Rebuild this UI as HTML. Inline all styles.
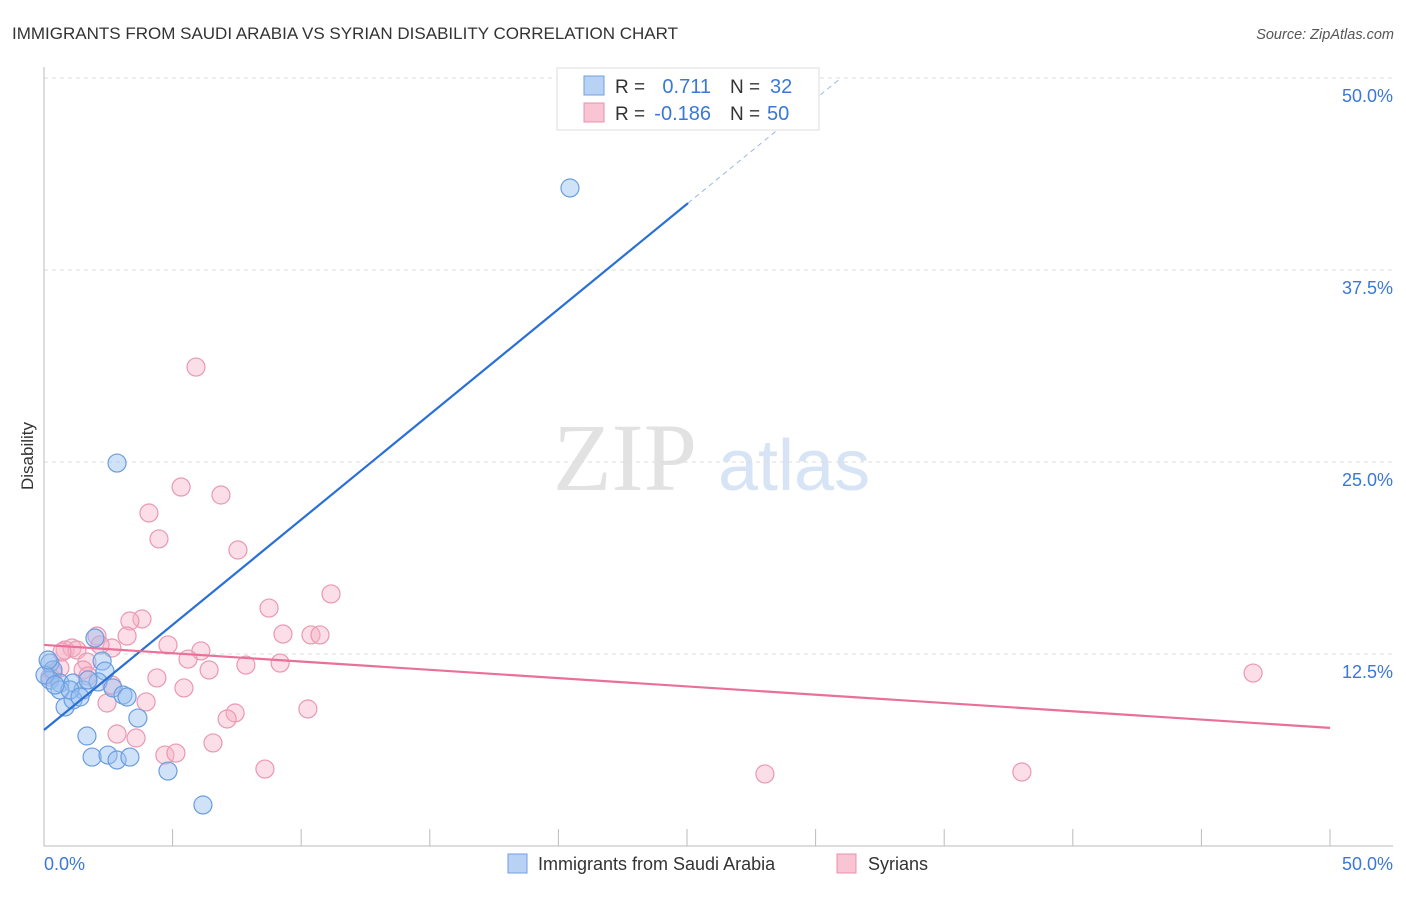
<!DOCTYPE html>
<html><head><meta charset="utf-8"><style>
body{margin:0;background:#fff;font-family:"Liberation Sans",sans-serif}
svg text{font-family:"Liberation Sans",sans-serif}
</style></head><body>
<svg width="1406" height="892" viewBox="0 0 1406 892">
<text x="12" y="39" font-size="17" fill="#333">IMMIGRANTS FROM SAUDI ARABIA VS SYRIAN DISABILITY CORRELATION CHART</text>
<text x="1394" y="39" font-size="14.5" fill="#555" text-anchor="end" font-style="italic">Source: ZipAtlas.com</text>
<text x="33" y="456" font-size="17" fill="#333" text-anchor="middle" transform="rotate(-90 33 456)">Disability</text>
<text x="553" y="490" font-size="96" fill="#e2e2e2" style="font-family:'Liberation Serif',serif">ZIP</text>
<text x="718" y="490" font-size="72" fill="#d6e4f5">atlas</text>
<g id="grid"></g>
<g id="axes"></g>
<g id="points"></g>
<g id="trends"></g>
<g>
<rect x="557" y="68" width="262" height="62" fill="#fff" stroke="#ddd"/>
<rect x="584" y="76" width="20" height="19" fill="#b8d2f5" stroke="#6fa0e0"/>
<rect x="584" y="103" width="20" height="19" fill="#f9c5d5" stroke="#e890aa"/>
<text x="615" y="93" font-size="19" fill="#333">R =</text>
<text x="711" y="93" font-size="20" fill="#3a78d8" text-anchor="end">0.711</text>
<text x="730" y="93" font-size="19" fill="#333">N =</text>
<text x="770" y="93" font-size="20" fill="#3a78d8">32</text>
<text x="615" y="120" font-size="19" fill="#333">R =</text>
<text x="711" y="120" font-size="20" fill="#3a78d8" text-anchor="end">-0.186</text>
<text x="730" y="120" font-size="19" fill="#333">N =</text>
<text x="767" y="120" font-size="20" fill="#3a78d8">50</text>
</g>
<g>
<rect x="508" y="854" width="19" height="19" fill="#b8d2f5" stroke="#6fa0e0"/>
<text x="538" y="870" font-size="18" fill="#333">Immigrants from Saudi Arabia</text>
<rect x="837" y="854" width="19" height="19" fill="#f9c5d5" stroke="#e890aa"/>
<text x="868" y="870" font-size="18" fill="#333">Syrians</text>
</g>
</svg>
<script>
const yTicks=[12.5,25,37.5,50];
const yTickLabels=["12.5%","25.0%","37.5%","50.0%"];
const xTickLabels=["0.0%","50.0%"];
const saudiX=[20.45,2.84,1.98,2.26,2.37,0.23,0.35,0.23,0.62,1.13,1.52,2.10,2.68,3.07,3.23,0.82,1.13,3.65,1.67,1.87,2.49,2.84,3.34,4.82,6.18,0.62,1.01,1.40,0.04,0.43,1.71,0.16];
const saudiY=[42.84,24.93,13.54,12.04,11.39,11.91,11.46,10.81,10.61,10.61,10.16,10.68,10.29,9.83,9.70,9.05,9.51,8.33,7.16,5.79,5.92,5.60,5.79,4.88,2.67,10.16,10.16,9.70,11.13,10.48,10.81,12.11];
const syrX=[5.91,5.33,6.88,4.08,4.47,7.54,11.16,8.75,3.81,3.34,2.06,3.23,9.29,10.38,10.73,4.82,6.10,5.60,6.42,7.85,9.18,4.39,5.44,3.97,2.45,10.26,7.43,7.12,2.84,3.58,6.57,4.70,5.13,8.59,28.03,38.02,47.01,0.82,1.09,1.28,2.64,1.67,1.52,0.62,0.35,0.23,0.70,1.71,2.64,2.18];
const syrY=[31.18,23.37,22.85,21.68,19.99,19.27,16.41,15.49,14.78,14.65,13.67,13.67,13.80,13.74,13.74,13.09,12.70,12.17,11.46,11.78,11.91,10.94,10.29,9.38,9.31,8.92,8.66,8.27,7.29,7.03,6.71,5.92,6.05,5.01,4.69,4.82,11.26,12.76,12.89,12.76,12.89,11.98,11.46,11.59,11.26,11.00,12.63,11.07,10.48,13.09];
const saudiTrend=[7.55,1.37];
const syrTrend=[13.09,-0.108];
const NS="http://www.w3.org/2000/svg";
const X=v=>44+v*25.72, Y=v=>846-v*15.36;
function mk(p,t,a){const e=document.createElementNS(NS,t);for(const k in a)e.setAttribute(k,a[k]);p.appendChild(e);return e;}
const grid=document.getElementById('grid'),axes=document.getElementById('axes'),pts=document.getElementById('points'),tr=document.getElementById('trends');
yTicks.forEach((t,i)=>{
 const l=mk(grid,'line',{x1:44,x2:1393,y1:Y(t),y2:Y(t),stroke:'#ddd','stroke-dasharray':'4,4'});
 
 
 const tx=mk(grid,'text',{x:1393,y:Y(t)+24,'font-size':18,fill:'#3a78d8','text-anchor':'end'});
 tx.textContent=yTickLabels[i];
 
 
});
const ax=mk(axes,'path',{d:'M44 67V846H1393',fill:'none',stroke:'#bbb'});


for(let i=0;i<=10;i++){
 const t=mk(axes,'line',{x1:X(i*5),x2:X(i*5),y1:829,y2:846,stroke:'#bbb'});
 
 
}
[[0,'start',44],[50,'end',1393]].forEach((d,i)=>{
 const tx=mk(axes,'text',{x:d[2],y:870,'font-size':18,fill:'#3a78d8','text-anchor':d[1]});
 tx.textContent=xTickLabels[i];
 
 
});
syrX.forEach((x,i)=>{
 const c=mk(pts,'circle',{cx:X(x),cy:Y(syrY[i]),r:9,fill:'rgba(246,176,198,0.42)',stroke:'#eb98b2','stroke-width':1.2});
 
 
});
saudiX.forEach((x,i)=>{
 const c=mk(pts,'circle',{cx:X(x),cy:Y(saudiY[i]),r:9,fill:'rgba(150,190,240,0.45)',stroke:'#6a9de0','stroke-width':1.2});
 
 
});
const bEnd=25.04,bDash=30.9;
const l1=mk(tr,'line',{x1:X(0),y1:Y(saudiTrend[0]),x2:X(bEnd),y2:Y(saudiTrend[0]+saudiTrend[1]*bEnd),stroke:'#2a6fd6','stroke-width':2.2});


const l2=mk(tr,'line',{x1:X(bEnd),y1:Y(saudiTrend[0]+saudiTrend[1]*bEnd),x2:X(bDash),y2:Y(saudiTrend[0]+saudiTrend[1]*bDash),stroke:'#9bb8e0','stroke-width':1,'stroke-dasharray':'5,4'});


const l3=mk(tr,'line',{x1:X(0),y1:Y(syrTrend[0]),x2:X(50),y2:Y(syrTrend[0]+syrTrend[1]*50),stroke:'#e8709a','stroke-width':2.2});


</script>
</body></html>
